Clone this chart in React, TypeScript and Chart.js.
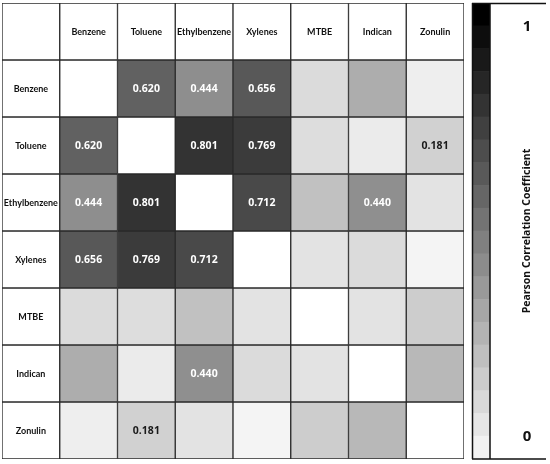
import React, { useEffect, useRef } from "react";
import { Chart, registerables } from "chart.js";
Chart.register(...registerables);

const variables = ["Benzene", "Toluene", "Ethylbenzene", "Xylenes", "MTBE", "Indican", "Zonulin"];
const benzene = [null, 0.62, 0.444, 0.656, 0.14, 0.32, 0.065];
const toluene = [0.62, null, 0.801, 0.769, 0.135, 0.08, 0.181];
const ethylbenzene = [0.444, 0.801, null, 0.712, 0.245, 0.44, 0.11];
const xylenes = [0.656, 0.769, 0.712, null, 0.11, 0.14, 0.045];
const mtbe = [0.14, 0.135, 0.245, 0.11, null, 0.11, 0.195];
const indican = [0.32, 0.08, 0.44, 0.14, 0.11, null, 0.28];
const zonulin = [0.065, 0.181, 0.11, 0.045, 0.195, 0.28, null];
const matrix = [benzene, toluene, ethylbenzene, xylenes, mtbe, indican, zonulin];
// pairs whose coefficient is printed in the cell
const significant: [number, number][] = [[0, 1], [0, 2], [0, 3], [1, 2], [1, 3], [1, 6], [2, 3], [2, 5]];
const colorbarSteps = 20;
const colorbarMin = 0;
const colorbarMax = 1;
const colorbarTitle = "Pearson Correlation Coefficient";

const FONT = "'Open Sans', 'DejaVu Sans', sans-serif";
const LABEL_FONT = "Lato, 'Open Sans', sans-serif";

function gray(v: number) {
  const g = Math.round(255 * (1 - Math.max(0, Math.min(1, v))));
  return `rgb(${g},${g},${g})`;
}

function isSig(a: number, b: number) {
  return significant.some(([i, j]) => (i === a && j === b) || (i === b && j === a));
}

export default function App() {
  const gridRef = useRef<HTMLCanvasElement>(null);
  const barRef = useRef<HTMLCanvasElement>(null);

  useEffect(() => {
    const n = variables.length + 1;
    const datasets = [] as any[];
    for (let r = 0; r < n; r++) {
      const colors: string[] = [];
      for (let c = 0; c < n; c++) {
        if (r === 0 || c === 0) colors.push("#ffffff");
        else {
          const v = matrix[r - 1][c - 1];
          colors.push(v === null ? "#ffffff" : gray(Math.abs(v as number)));
        }
      }
      datasets.push({
        label: r === 0 ? "header" : variables[r - 1],
        data: new Array(n).fill(1),
        backgroundColor: colors,
        borderColor: "#2a2a2a",
        borderWidth: 1,
        borderSkipped: false,
        stack: "s",
        barPercentage: 1,
        categoryPercentage: 1,
      });
    }

    const textPlugin = {
      id: "cellText",
      afterDatasetsDraw(chart: any) {
        const ctx = chart.ctx;
        ctx.save();
        ctx.textAlign = "center";
        ctx.textBaseline = "middle";
        for (let r = 0; r < n; r++) {
          const meta = chart.getDatasetMeta(r);
          meta.data.forEach((el: any, c: number) => {
            const cx = el.x;
            const cy = (el.y + el.base) / 2;
            let text = "";
            if (r === 0 && c > 0) {
              text = variables[c - 1];
              ctx.font = `bold 9px ${LABEL_FONT}`;
              ctx.fillStyle = "#111";
            } else if (c === 0 && r > 0) {
              text = variables[r - 1];
              ctx.font = `bold 9px ${LABEL_FONT}`;
              ctx.fillStyle = "#111";
            } else if (r > 0 && c > 0 && r !== c && isSig(r - 1, c - 1)) {
              const v = matrix[r - 1][c - 1] as number;
              text = v.toFixed(3);
              ctx.font = `bold 10.5px ${FONT}`;
              ctx.fillStyle = Math.abs(v) >= 0.4 ? "#ffffff" : "#1a1a1a";
            }
            if (text) ctx.fillText(text, cx, cy + 1);
          });
        }
        ctx.restore();
      },
    };

    const grid = new Chart(gridRef.current!, {
      type: "bar",
      data: { labels: ["", ...variables], datasets },
      options: {
        animation: false,
        responsive: false,
        layout: { padding: { left: 2, top: 3, right: 6, bottom: 5 } },
        plugins: { legend: { display: false }, tooltip: { enabled: false } },
        scales: {
          x: { stacked: true, display: false, grid: { display: false } },
          y: { stacked: true, display: false, min: 0, max: n, reverse: true, grid: { display: false } },
        },
      },
      plugins: [textPlugin],
    });

    const cbDatasets = [] as any[];
    for (let i = 0; i < colorbarSteps; i++) {
      cbDatasets.push({
        label: "step" + i,
        data: [(colorbarMax - colorbarMin) / colorbarSteps],
        backgroundColor: gray((i + 1) / colorbarSteps),
        borderWidth: 0,
        stack: "c",
        barPercentage: 1,
        categoryPercentage: 1,
      });
    }

    const framePlugin = {
      id: "cbFrame",
      afterDraw(chart: any) {
        const ctx = chart.ctx;
        const ca = chart.chartArea;
        const ys = chart.scales.y;
        ctx.save();
        ctx.strokeStyle = "#111";
        ctx.lineWidth = 1.5;
        ctx.beginPath();
        ctx.moveTo(ca.left + 0.5, ca.top);
        ctx.lineTo(ca.left + 0.5, ca.bottom);
        ctx.moveTo(ca.right, ca.top);
        ctx.lineTo(ca.right, ca.bottom);
        ctx.moveTo(ca.left, ca.top + 0.5);
        ctx.lineTo(ca.left + 74, ca.top + 0.5);
        ctx.moveTo(ca.left, ca.bottom);
        ctx.lineTo(ca.left + 74, ca.bottom);
        ctx.stroke();
        const tx = ca.right + 37;
        ctx.fillStyle = "#111";
        ctx.textAlign = "center";
        ctx.textBaseline = "middle";
        ctx.font = `bold 15px ${FONT}`;
        ctx.fillText(String(colorbarMax), tx, ys.getPixelForValue(0.947));
        ctx.fillText(String(colorbarMin), tx, ys.getPixelForValue(0.048));
        ctx.translate(tx, (ca.top + ca.bottom) / 2);
        ctx.rotate(-Math.PI / 2);
        ctx.font = `bold 10.5px ${FONT}`;
        ctx.fillText(colorbarTitle, 0, 0);
        ctx.restore();
      },
    };

    const cb = new Chart(barRef.current!, {
      type: "bar",
      data: { labels: [""], datasets: cbDatasets },
      options: {
        animation: false,
        responsive: false,
        layout: { padding: { left: 6, top: 3, right: 60, bottom: 5 } },
        plugins: { legend: { display: false }, tooltip: { enabled: false } },
        scales: {
          x: { stacked: true, display: false, grid: { display: false } },
          y: { stacked: true, display: false, min: colorbarMin, max: colorbarMax, grid: { display: false } },
        },
      },
      plugins: [framePlugin],
    });

    return () => {
      grid.destroy();
      cb.destroy();
    };
  }, []);

  return (
    <div style={{ position: "absolute", left: 0, top: 0, width: 550, height: 464, background: "#fff" }}>
      <canvas ref={gridRef} width={470} height={464} style={{ position: "absolute", left: 0, top: 0 }} />
      <canvas ref={barRef} width={84} height={464} style={{ position: "absolute", left: 466, top: 0 }} />
    </div>
  );
}
